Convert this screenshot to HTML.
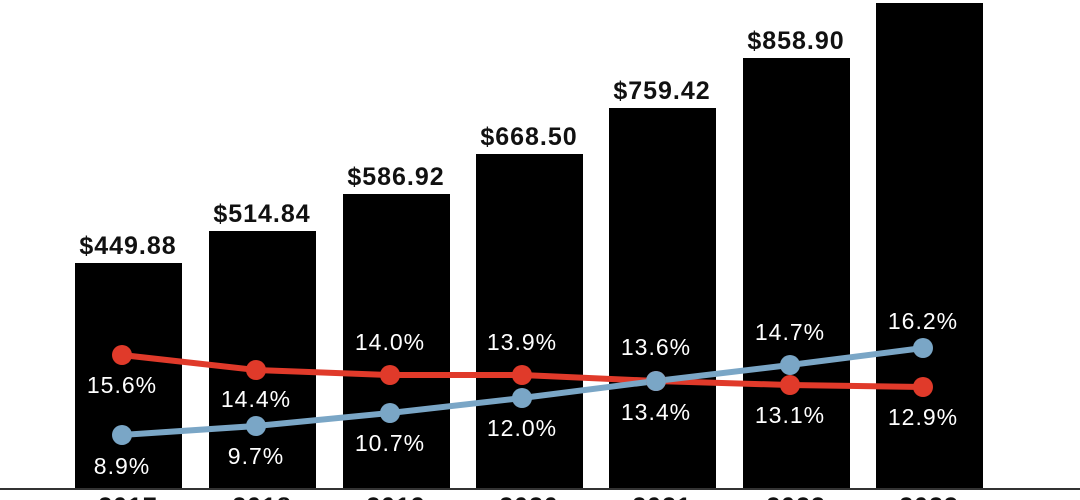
<!DOCTYPE html>
<html><head><style>html,body{margin:0;padding:0;background:#fff;}svg{display:block}</style></head>
<body>
<svg width="1080" height="500" xmlns="http://www.w3.org/2000/svg" font-family="Liberation Sans, sans-serif" font-weight="bold">
<g fill="#000">
<rect x="75" y="263" width="107" height="226"/>
<rect x="209" y="231" width="107" height="258"/>
<rect x="343" y="194" width="107" height="295"/>
<rect x="476" y="154" width="107" height="335"/>
<rect x="609" y="108" width="107" height="381"/>
<rect x="743" y="58" width="107" height="431"/>
<rect x="876" y="3" width="107" height="486"/>
</g>
<line x1="0" y1="489" x2="1080" y2="489" stroke="#333" stroke-width="2"/>
<g font-size="25" text-anchor="middle" fill="#111" letter-spacing="1">
<text x="128" y="254">$449.88</text>
<text x="262" y="222">$514.84</text>
<text x="396" y="185">$586.92</text>
<text x="529" y="145">$668.50</text>
<text x="662" y="99">$759.42</text>
<text x="796" y="49">$858.90</text>
<text x="128" y="515">2017</text><text x="262" y="515">2018</text><text x="396" y="515">2019</text>
<text x="529" y="515">2020</text><text x="662" y="515">2021</text><text x="796" y="515">2022</text><text x="929" y="515">2023</text>
</g>
<polyline points="122,355 256,370 390,375 522,375 656,381 790,385 923,387" fill="none" stroke="#e03a2a" stroke-width="6"/>
<polyline points="122,435 256,426 390,413 522,398 656,381 790,365 923,348" fill="none" stroke="#7aa6c6" stroke-width="6"/>
<g fill="#e03a2a">
<circle cx="122" cy="355" r="10"/><circle cx="256" cy="370" r="10"/><circle cx="390" cy="375" r="10"/><circle cx="522" cy="375" r="10"/><circle cx="656" cy="381" r="10"/><circle cx="790" cy="385" r="10"/><circle cx="923" cy="387" r="10"/>
</g>
<g fill="#7aa6c6">
<circle cx="122" cy="435" r="10"/><circle cx="256" cy="426" r="10"/><circle cx="390" cy="413" r="10"/><circle cx="522" cy="398" r="10"/><circle cx="656" cy="381" r="10"/><circle cx="790" cy="365" r="10"/><circle cx="923" cy="348" r="10"/>
</g>
<g font-size="23" text-anchor="middle" fill="#fff" letter-spacing="1" font-weight="normal">
<text x="122" y="393">15.6%</text><text x="122" y="474">8.9%</text>
<text x="256" y="407">14.4%</text><text x="256" y="464">9.7%</text>
<text x="390" y="350">14.0%</text><text x="390" y="451">10.7%</text>
<text x="522" y="350">13.9%</text><text x="522" y="436">12.0%</text>
<text x="656" y="355">13.6%</text><text x="656" y="420">13.4%</text>
<text x="790" y="340">14.7%</text><text x="790" y="423">13.1%</text>
<text x="923" y="329">16.2%</text><text x="923" y="425">12.9%</text>
</g>
</svg>
</body></html>
